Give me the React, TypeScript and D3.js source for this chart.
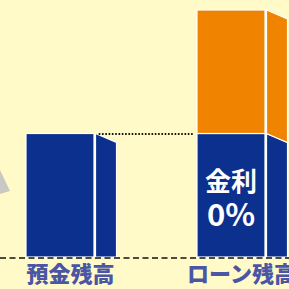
import React, { useEffect, useRef } from "react";
import * as d3 from "d3";

// カテゴリと値
const categories = ["預金残高", "ローン残高"];
const depositValues = [100, 100]; // 青（預金と同額の部分）
const extraValues = [0, 100]; // オレンジ（預金を超える部分）
const rateLabel = ["金利", "0%"];

const W = 289;
const H = 289;

const App = () => {
  const svgRef = useRef<SVGSVGElement>(null);

  useEffect(() => {
    const svg = d3.select(svgRef.current);
    svg.selectAll("*").remove();

    const blue = "#0b308d";
    const orange = "#f08300";
    const depth = 21; // 側面の幅
    const slant = 9; // 側面の傾き

    const x = d3
      .scaleBand<string>()
      .domain(categories)
      .range([26, 265])
      .paddingInner(0.6023)
      .paddingOuter(0);

    const y = d3.scaleLinear().domain([0, 200]).range([257, 10]);

    svg.append("rect").attr("width", W).attr("height", H).attr("fill", "#fffac7");

    // 左端のグレーの矢印（切れている）
    svg
      .append("polygon")
      .attr("points", "0,170 10,191 0,194")
      .attr("fill", "#c8c8c4");

    const stacked = categories.map((c, i) => ({
      cat: c,
      parts: [
        { y0: 0, y1: depositValues[i], color: blue },
        { y0: depositValues[i], y1: depositValues[i] + extraValues[i], color: orange },
      ].filter((p) => p.y1 > p.y0),
    }));

    const g = svg.selectAll("g.bar").data(stacked).enter().append("g").attr("class", "bar");

    g.each(function (d) {
      const sel = d3.select(this);
      const x0 = x(d.cat)!;
      const x1 = x0 + x.bandwidth();
      const sx = x1 + 1.5;
      d.parts.forEach((p) => {
        // 正面
        sel
          .append("rect")
          .attr("x", x0)
          .attr("y", y(p.y1))
          .attr("width", x.bandwidth())
          .attr("height", y(p.y0) - y(p.y1))
          .attr("fill", p.color)
          .attr("stroke", "#ffffff")
          .attr("stroke-width", 1.2);
        // 側面
        const top = y(p.y1);
        const bot = y(p.y0);
        const botR = p.y0 === 0 ? bot : bot + slant;
        sel
          .append("polygon")
          .attr(
            "points",
            `${sx},${top} ${sx + depth},${top + slant} ${sx + depth},${botR} ${sx},${bot}`
          )
          .attr("fill", p.color)
          .attr("stroke", "#ffffff")
          .attr("stroke-width", 1.2);
      });
    });

    // 基準線（破線）
    svg
      .append("line")
      .attr("x1", 0)
      .attr("x2", W)
      .attr("y1", y(0) + 1)
      .attr("y2", y(0) + 1)
      .attr("stroke", "#111")
      .attr("stroke-width", 1.7)
      .attr("stroke-dasharray", "6,3.5");

    // 預金残高の高さを示す点線
    const leftEnd = x(categories[0])! + x.bandwidth() + 1.5 + 4;
    svg
      .append("line")
      .attr("x1", leftEnd)
      .attr("x2", x(categories[1])! - 3)
      .attr("y1", y(depositValues[0]) + 0.5)
      .attr("y2", y(depositValues[0]) + 0.5)
      .attr("stroke", "#000")
      .attr("stroke-width", 2)
      .attr("stroke-linecap", "round")
      .attr("stroke-dasharray", "0,3.3");

    // カテゴリラベル
    svg
      .selectAll("text.cat")
      .data(categories)
      .enter()
      .append("text")
      .attr("class", "cat")
      .attr("x", (d) => x(d)! + (x.bandwidth() + depth) / 2)
      .attr("y", 282)
      .attr("text-anchor", "middle")
      .attr("fill", "#4a56a5")
      .style("font-family", "'Noto Sans CJK JP'")
      .style("font-size", "22px")
      .style("font-weight", "900")
      .text((d) => d);

    // 金利 0%
    const cx = x(categories[1])! + x.bandwidth() / 2;
    svg
      .append("text")
      .attr("x", cx)
      .attr("y", 191)
      .attr("text-anchor", "middle")
      .attr("fill", "#ffffff")
      .style("font-family", "'Noto Sans CJK JP'")
      .style("font-size", "26px")
      .style("font-weight", "bold")
      .text(rateLabel[0]);
    svg
      .append("text")
      .attr("x", cx)
      .attr("y", 226)
      .attr("text-anchor", "middle")
      .attr("fill", "#ffffff")
      .style("font-family", "'Noto Sans CJK JP'")
      .style("font-size", "31px")
      .style("font-weight", "bold")
      .text(rateLabel[1]);
  }, []);

  return (
    <svg
      ref={svgRef}
      width={W}
      height={H}
      style={{ position: "fixed", top: 0, left: 0, display: "block" }}
    ></svg>
  );
};

export default App;
